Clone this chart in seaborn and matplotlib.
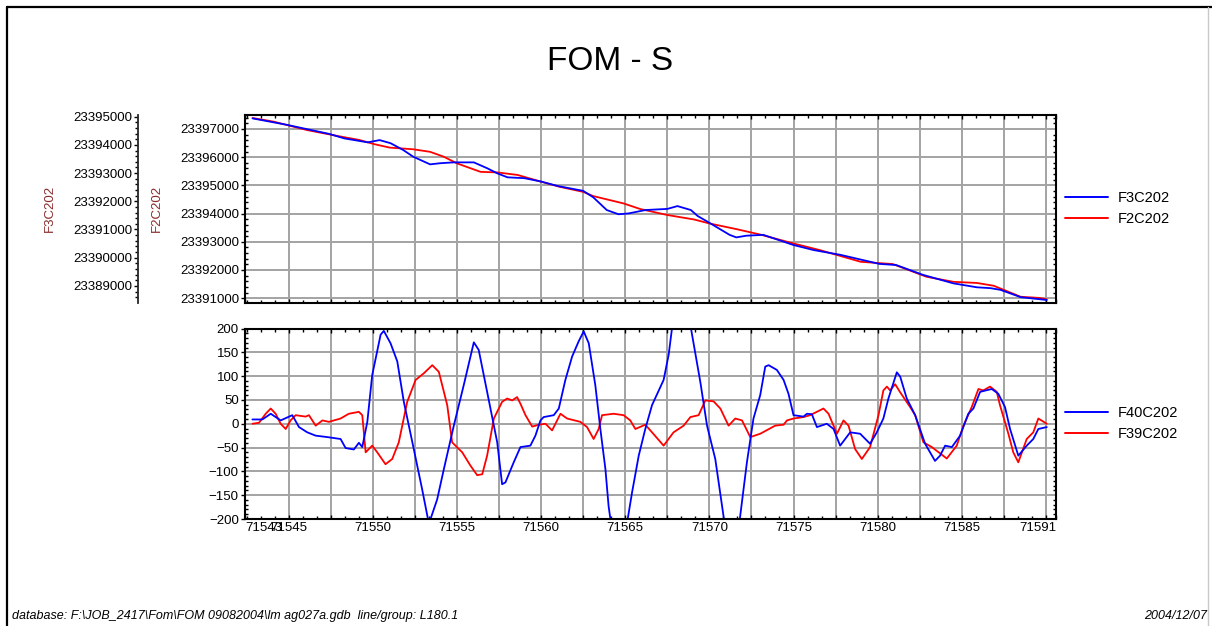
import matplotlib
matplotlib.use("Agg")
import matplotlib.pyplot as plt
import numpy as np
import seaborn as sns
from matplotlib.lines import Line2D
from matplotlib.ticker import MultipleLocator, FixedLocator, FormatStrFormatter

# ---------------- data ----------------
# fiducial range of the profile
X_MIN, X_MAX = 71542.4, 71590.6

# F2C202 (upper panel, inner axis)
f2_x = [71542.85, 71544.1, 71546.1, 71548.1, 71549.2, 71550.1, 71551.0, 71552.4, 71553.4, 71554.2,
        71555.0, 71556.4, 71557.4, 71558.6, 71560.0, 71561.1, 71562.5, 71563.1, 71564.9, 71565.9,
        71567.5, 71569.1, 71570.0, 71571.6, 71573.0, 71575.0, 71576.6, 71579.0, 71580.9, 71582.9,
        71584.5, 71585.9, 71586.9, 71588.5, 71589.6, 71590.05]
f2_v = [23397390, 23397260, 23396960, 23396730, 23396610, 23396460, 23396340, 23396280, 23396190, 23396020,
        23395780, 23395480, 23395460, 23395370, 23395130, 23394950, 23394770, 23394620, 23394360, 23394160,
        23393950, 23393790, 23393650, 23393450, 23393260, 23392940, 23392700, 23392290, 23392210, 23391760,
        23391580, 23391540, 23391440, 23391050, 23391010, 23390960]

# F3C202 (upper panel, outer axis)
f3_x = [71542.85, 71544.9, 71547.4, 71548.3, 71549.7, 71550.4, 71551.05, 71551.8, 71552.4, 71553.4,
        71554.0, 71554.8, 71556.0, 71556.8, 71557.4, 71558.0, 71559.0, 71560.0, 71561.0, 71562.5,
        71563.1, 71563.9, 71564.6, 71565.2, 71566.2, 71567.5, 71568.1, 71568.9, 71569.3, 71570.05,
        71571.2, 71571.6, 71572.2, 71573.2, 71575.0, 71576.2, 71577.8, 71580.1, 71581.1, 71582.7,
        71584.5, 71585.9, 71586.7, 71587.3, 71588.5, 71590.05]
f3_v = [23394940, 23394710, 23394390, 23394230, 23394090, 23394170, 23394060, 23393820, 23393580, 23393310,
        23393350, 23393380, 23393380, 23393170, 23392990, 23392850, 23392820, 23392700, 23392540, 23392370,
        23392140, 23391690, 23391540, 23391570, 23391690, 23391730, 23391830, 23391690, 23391480, 23391220,
        23390810, 23390720, 23390780, 23390810, 23390450, 23390270, 23390100, 23389780, 23389740, 23389390,
        23389090, 23388950, 23388920, 23388860, 23388600, 23388500]

# F40C202 (lower panel)
f40_x = [71542.84, 71543.43, 71543.93, 71544.52, 71545.21, 71545.61, 71546.10, 71546.60, 71547.29, 71548.08,
         71548.38, 71548.87, 71549.17, 71549.37, 71549.67, 71549.96, 71550.46, 71550.65, 71551.05, 71551.45,
         71551.84, 71552.43, 71552.93, 71553.33, 71553.82, 71554.22, 71554.81, 71555.40, 71556.00, 71556.29,
         71556.79, 71557.39, 71557.68, 71557.88, 71558.37, 71558.77, 71559.36, 71559.66, 71559.96, 71560.15,
         71560.75, 71561.05, 71561.44, 71561.84, 71562.23, 71562.53, 71562.83, 71563.22, 71563.52, 71563.82,
         71564.01, 71564.59, 71565.40, 71565.80, 71566.19, 71566.59, 71567.28, 71567.58, 71567.78, 71568.27,
         71568.97, 71569.46, 71569.86, 71570.35, 71570.84, 71571.38, 71571.83, 71572.23, 71572.62, 71573.02,
         71573.32, 71573.52, 71574.01, 71574.41, 71574.70, 71575.00, 71575.59, 71575.80, 71576.09, 71576.39,
         71576.98, 71577.38, 71577.77, 71578.37, 71578.96, 71579.55, 71579.95, 71580.34, 71580.64, 71581.14,
         71581.34, 71581.73, 71582.23, 71582.82, 71583.41, 71583.71, 71584.01, 71584.41, 71584.90, 71585.39,
         71585.69, 71586.09, 71586.78, 71587.17, 71587.57, 71587.87, 71588.36, 71588.86, 71589.25, 71589.55,
         71590.05]
f40_v = [9, 9, 21, 7, 18, -7, -18, -25, -28, -32,
         -51, -54, -40, -49, 4, 102, 187, 195, 169, 131,
         46, -53, -138, -210, -159, -95, -4, 81, 171, 155,
         67, -39, -127, -123, -81, -49, -46, -25, 7, 14,
         18, 32, 92, 141, 173, 194, 169, 81, -11, -95,
         -173, -320, -145, -67, -11, 39, 92, 145, 201, 330,
         187, 88, -4, -74, -194, -325, -194, -81, 11, 60,
         120, 123, 113, 92, 63, 18, 15, 21, 20, -7,
         0, -11, -46, -18, -21, -42, -18, 11, 53, 108,
         99, 53, 18, -42, -78, -67, -46, -49, -25, 21,
         32, 67, 73, 63, 35, -11, -67, -46, -32, -11,
         -7]

# F39C202 (lower panel)
f39_x = [71542.84, 71543.23, 71543.63, 71543.93, 71544.22, 71544.52, 71544.82, 71545.11, 71545.41, 71546.00,
         71546.20, 71546.60, 71547.00, 71547.39, 71548.08, 71548.57, 71549.17, 71549.37, 71549.57, 71549.96,
         71550.26, 71550.75, 71551.15, 71551.54, 71552.04, 71552.54, 71553.03, 71553.53, 71553.92, 71554.42,
         71554.71, 71555.31, 71555.80, 71556.20, 71556.50, 71556.79, 71557.19, 71557.68, 71557.98, 71558.28,
         71558.57, 71558.77, 71559.07, 71559.47, 71559.86, 71560.26, 71560.65, 71561.15, 71561.54, 71562.33,
         71562.73, 71563.12, 71563.42, 71563.62, 71564.31, 71564.90, 71565.30, 71565.60, 71566.19, 71566.59,
         71567.28, 71567.87, 71568.47, 71568.87, 71569.36, 71569.76, 71570.25, 71570.65, 71571.14, 71571.54,
         71571.94, 71572.43, 71573.02, 71573.91, 71574.41, 71574.61, 71575.00, 71575.59, 71575.99, 71576.78,
         71577.08, 71577.58, 71577.97, 71578.27, 71578.66, 71579.06, 71579.55, 71580.05, 71580.34, 71580.55,
         71580.74, 71581.04, 71581.34, 71581.93, 71582.23, 71582.72, 71583.22, 71584.11, 71584.70, 71585.10,
         71585.59, 71585.99, 71586.28, 71586.68, 71587.08, 71587.27, 71587.77, 71588.06, 71588.36, 71588.86,
         71589.25, 71589.55, 71590.05]
f39_v = [0, 2, 21, 32, 21, 0, -11, 7, 18, 15,
         18, -4, 7, 4, 11, 21, 25, 18, -60, -46,
         -60, -85, -74, -39, 46, 92, 106, 123, 109, 39,
         -39, -60, -88, -108, -106, -67, 11, 46, 53, 49,
         56, 42, 18, -6, -2, 0, -14, 21, 11, 4,
         -7, -32, -11, 18, 21, 18, 7, -11, -2, -18,
         -46, -18, -4, 14, 18, 49, 47, 32, -4, 11,
         7, -28, -21, -4, -2, 7, 11, 14, 18, 32,
         21, -21, 7, -4, -53, -74, -49, 18, 70, 78,
         70, 83, 66, 35, 18, -39, -49, -73, -46, -4,
         35, 73, 70, 78, 67, 39, -21, -60, -81, -32,
         -18, 11, 0]

# axis ticks and labels
x_ticks = [X_MIN] + list(np.arange(71545, 71590.1, 2.5)) + [X_MAX]
x_labels = ["71543", "71545", "", "71550", "", "71555", "", "71560", "", "71565", "",
            "71570", "", "71575", "", "71580", "", "71585", "", "", "71591"]
f2_ticks = [23391000, 23392000, 23393000, 23394000, 23395000, 23396000, 23397000]
f3_ticks = [23389000, 23390000, 23391000, 23392000, 23393000, 23394000, 23395000]
f2_lim = (23390840, 23397496)
f3_lim = (23388404, 23395060)
dev_ticks = [-200, -150, -100, -50, 0, 50, 100, 150, 200]

title = "FOM - S"
footer_left = "database: F:\\JOB_2417\\Fom\\FOM 09082004\\lm ag027a.gdb  line/group: L180.1"
footer_right = "2004/12/07"

# ---------------- styling ----------------
sns.set_style("white")
plt.rcParams["font.family"] = ["Liberation Sans", "DejaVu Sans"]
plt.rcParams["text.color"] = "black"
plt.rcParams["axes.labelcolor"] = "black"
plt.rcParams["xtick.color"] = "black"
plt.rcParams["ytick.color"] = "black"

W, H = 1212, 626
fig = plt.figure(figsize=(W / 100, H / 100), dpi=100)


def box(l, t, r, b):
    return [l / W, 1 - b / H, (r - l) / W, (b - t) / H]


GRID = "#a3a3a3"
TICK_FS = 9.5
BLUE, RED = "#0000ff", "#ff0000"
LABEL_COLOR = "#8b2c2c"

ax_top = fig.add_axes(box(245, 115, 1056, 302.7))
ax_bot = fig.add_axes(box(245, 328.5, 1056, 519))
ax_out = ax_top.twinx()

# upper panel
sns.lineplot(x=f2_x, y=f2_v, ax=ax_top, color=RED, linewidth=1.3,
             sort=False, estimator=None, legend=False)
sns.lineplot(x=f3_x, y=f3_v, ax=ax_out, color=BLUE, linewidth=1.3,
             sort=False, estimator=None, legend=False)
# lower panel
sns.lineplot(x=f39_x, y=f39_v, ax=ax_bot, color=RED, linewidth=1.3,
             sort=False, estimator=None, legend=False)
sns.lineplot(x=f40_x, y=f40_v, ax=ax_bot, color=BLUE, linewidth=1.3,
             sort=False, estimator=None, legend=False)

for ax in (ax_top, ax_bot):
    ax.set_xlim(X_MIN, X_MAX)
    ax.xaxis.set_major_locator(FixedLocator(x_ticks))
    ax.xaxis.set_minor_locator(MultipleLocator(2.5 / 3))
    ax.grid(True, which="major", color=GRID, linewidth=1.4)
    ax.set_axisbelow(True)
    for sp in ax.spines.values():
        sp.set_visible(True)
        sp.set_color("black")
        sp.set_linewidth(1.5)
    ax.tick_params(axis="x", which="major", direction="in", length=3, width=1,
                   top=True, bottom=True, labelsize=TICK_FS, pad=2)
    ax.tick_params(axis="x", which="minor", direction="in", length=2.5, width=1,
                   top=True, bottom=True)
    ax.set_xlabel("")
    ax.set_ylabel("")

ax_top.tick_params(axis="x", labelbottom=False)
ax_bot.set_xticklabels(x_labels)
xl = ax_bot.get_xticklabels()
xl[0].set_horizontalalignment("left")
xl[-1].set_horizontalalignment("right")

# inner axis (F2C202)
ax_top.set_ylim(*f2_lim)
ax_top.yaxis.set_major_locator(FixedLocator(f2_ticks))
ax_top.yaxis.set_minor_locator(MultipleLocator(200))
ax_top.yaxis.set_major_formatter(FormatStrFormatter("%d"))
ax_top.tick_params(axis="y", which="major", direction="out", length=3, width=1,
                   left=True, right=False, labelsize=TICK_FS, pad=1)
ax_top.tick_params(axis="y", which="minor", direction="in", length=2.5, width=1,
                   left=True, right=True)

# outer axis (F3C202), pushed out on the left
ax_out.set_ylim(*f3_lim)
ax_out.yaxis.set_ticks_position("left")
ax_out.yaxis.set_label_position("left")
ax_out.spines["left"].set_position(("outward", 77))
ax_out.spines["left"].set_visible(True)
ax_out.spines["left"].set_linewidth(1.3)
for s in ("right", "top", "bottom"):
    ax_out.spines[s].set_visible(False)
ax_out.yaxis.set_major_locator(FixedLocator(f3_ticks))
ax_out.yaxis.set_minor_locator(MultipleLocator(200))
ax_out.yaxis.set_major_formatter(FormatStrFormatter("%d"))
ax_out.tick_params(axis="y", which="major", direction="out", length=3, width=1,
                   labelsize=TICK_FS, pad=1)
ax_out.tick_params(axis="y", which="minor", direction="out", length=2, width=1)
ax_out.set_ylabel("")

# lower panel y axis
ax_bot.set_ylim(-200, 200)
ax_bot.yaxis.set_major_locator(FixedLocator(dev_ticks))
ax_bot.yaxis.set_minor_locator(MultipleLocator(10))
ax_bot.tick_params(axis="y", which="major", direction="out", length=3, width=1,
                   left=True, right=False, labelsize=TICK_FS, pad=1.5)
ax_bot.tick_params(axis="y", which="minor", direction="in", length=2.5, width=1,
                   left=True, right=True)

# axis titles
fig.text(50 / W, 1 - 208 / H, "F3C202", rotation=90, ha="center", va="center",
         fontsize=9.5, color=LABEL_COLOR)
fig.text(157 / W, 1 - 208 / H, "F2C202", rotation=90, ha="center", va="center",
         fontsize=9.5, color=LABEL_COLOR)

# legends
leg_kw = dict(loc="center left", frameon=False, fontsize=10.5, handlelength=2.95,
              handletextpad=0.7, labelspacing=0.45, borderpad=0, borderaxespad=0)
fig.legend([Line2D([], [], color=BLUE, lw=1.4), Line2D([], [], color=RED, lw=1.4)],
           ["F3C202", "F2C202"], bbox_to_anchor=(1065 / W, 1 - 208.5 / H), **leg_kw)
fig.legend([Line2D([], [], color=BLUE, lw=1.4), Line2D([], [], color=RED, lw=1.4)],
           ["F40C202", "F39C202"], bbox_to_anchor=(1065 / W, 1 - 423.5 / H), **leg_kw)

# title and footer
fig.text(610 / W, 1 - 62 / H, title, ha="center", va="center", fontsize=24)
fig.text(12 / W, 1 - 616 / H, footer_left, ha="left", va="center",
         fontsize=9, style="italic")
fig.text(1207 / W, 1 - 616 / H, footer_right, ha="right", va="center",
         fontsize=9, style="italic")

# page frame
fig.add_artist(Line2D([7 / W, 7 / W], [0, 1 - 7 / H], transform=fig.transFigure,
                      color="black", lw=1.6))
fig.add_artist(Line2D([7 / W, 1], [1 - 7 / H, 1 - 7 / H], transform=fig.transFigure,
                      color="black", lw=1.6))
fig.add_artist(Line2D([1208 / W, 1208 / W], [0, 1 - 7 / H], transform=fig.transFigure,
                      color="#c8c8c8", lw=1.0))

fig.savefig("out.png", dpi=100)
